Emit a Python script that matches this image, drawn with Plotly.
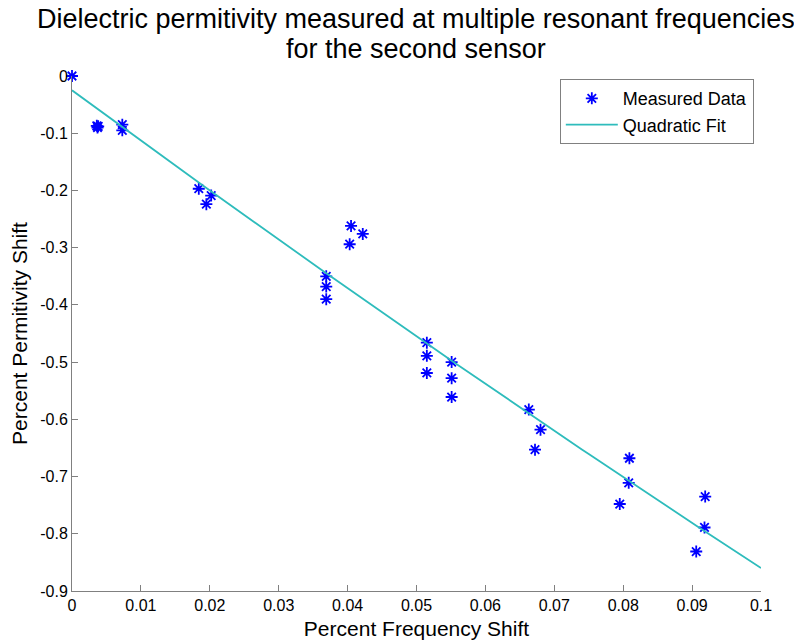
import numpy as np
import plotly.graph_objects as go

freq_shift = [0.0, 0.0036, 0.0037, 0.0038, 0.0073, 0.0073, 0.0184, 0.0195, 0.0202,
              0.0369, 0.0369, 0.0369, 0.0403, 0.0405, 0.0422,
              0.0515, 0.0515, 0.0515, 0.0551, 0.0551, 0.0551,
              0.0663, 0.0672, 0.0680, 0.0795, 0.0808, 0.0809,
              0.0906, 0.0918, 0.0919]
perm_shift = [0.0, -0.087, -0.090, -0.088, -0.085, -0.095, -0.197, -0.224, -0.209,
              -0.350, -0.368, -0.390, -0.294, -0.262, -0.276,
              -0.466, -0.489, -0.519, -0.500, -0.528, -0.561,
              -0.583, -0.653, -0.618, -0.748, -0.711, -0.668,
              -0.831, -0.789, -0.735]

# Quadratic fit coefficients (c0 + c1*x + c2*x^2)
fit_coeffs = [-0.025, -8.85, 5.0]
fit_x = np.linspace(0, 0.1, 101)
fit_y = fit_coeffs[0] + fit_coeffs[1] * fit_x + fit_coeffs[2] * fit_x ** 2

x_ticks = [0, 0.01, 0.02, 0.03, 0.04, 0.05, 0.06, 0.07, 0.08, 0.09, 0.1]
x_tick_labels = ["0", "0.01", "0.02", "0.03", "0.04", "0.05", "0.06", "0.07", "0.08", "0.09", "0.1"]
y_ticks = [0, -0.1, -0.2, -0.3, -0.4, -0.5, -0.6, -0.7, -0.8, -0.9]
y_tick_labels = ["0", "-0.1", "-0.2", "-0.3", "-0.4", "-0.5", "-0.6", "-0.7", "-0.8", "-0.9"]

title_lines = ["Dielectric permitivity measured at multiple resonant frequencies",
               "for the second sensor"]

font_main = "Liberation Sans, Arial, sans-serif"

fig = go.Figure()
fig.add_trace(go.Scatter(
    x=freq_shift, y=perm_shift, mode="markers", name="Measured Data",
    marker=dict(symbol="asterisk-open", size=10, color="#0000ff",
                line=dict(color="#0000ff", width=1.8)),
    cliponaxis=False,
))
fig.add_trace(go.Scatter(
    x=fit_x, y=fit_y, mode="lines", name="Quadratic Fit",
    line=dict(color="#2ebcbc", width=1.8),
))

axis_common = dict(
    showgrid=False, zeroline=False, showline=True, linecolor="#808080", linewidth=1,
    ticks="inside", ticklen=6, tickcolor="#808080", automargin=False,
    tickfont=dict(family=font_main, size=16, color="#000000"),
)

plot_top, plot_bottom = 76, 52
plot_h = 643 - plot_top - plot_bottom

fig.update_layout(
    width=794, height=643,
    margin=dict(l=72, r=33, t=plot_top, b=plot_bottom),
    paper_bgcolor="white", plot_bgcolor="white",
    xaxis=dict(
        range=[0, 0.1], tickvals=x_ticks, ticktext=x_tick_labels,
        title=dict(text="Percent Frequency Shift", standoff=8,
                   font=dict(family=font_main, size=21, color="#000000")),
        **axis_common,
    ),
    yaxis=dict(
        range=[-0.9, 0], tickvals=y_ticks, ticktext=y_tick_labels,
        title=dict(text="Percent Permitivity Shift", standoff=6,
                   font=dict(family=font_main, size=21, color="#000000")),
        **axis_common,
    ),
    legend=dict(
        x=0.708, y=0.994, xanchor="left", yanchor="top",
        bordercolor="#808080", borderwidth=1, bgcolor="white",
        font=dict(family=font_main, size=18, color="#000000"),
        itemwidth=52, tracegroupgap=0,
    ),
    showlegend=True,
)

for line, ypx in zip(title_lines, [18.5, 48.5]):
    fig.add_annotation(
        text=line, xref="paper", yref="paper",
        x=(416 - 72) / 689, y=1 + (plot_top - ypx) / plot_h,
        xanchor="center", yanchor="middle", showarrow=False,
        font=dict(family=font_main, size=27, color="#000000"),
    )

fig.write_html("out.html")
